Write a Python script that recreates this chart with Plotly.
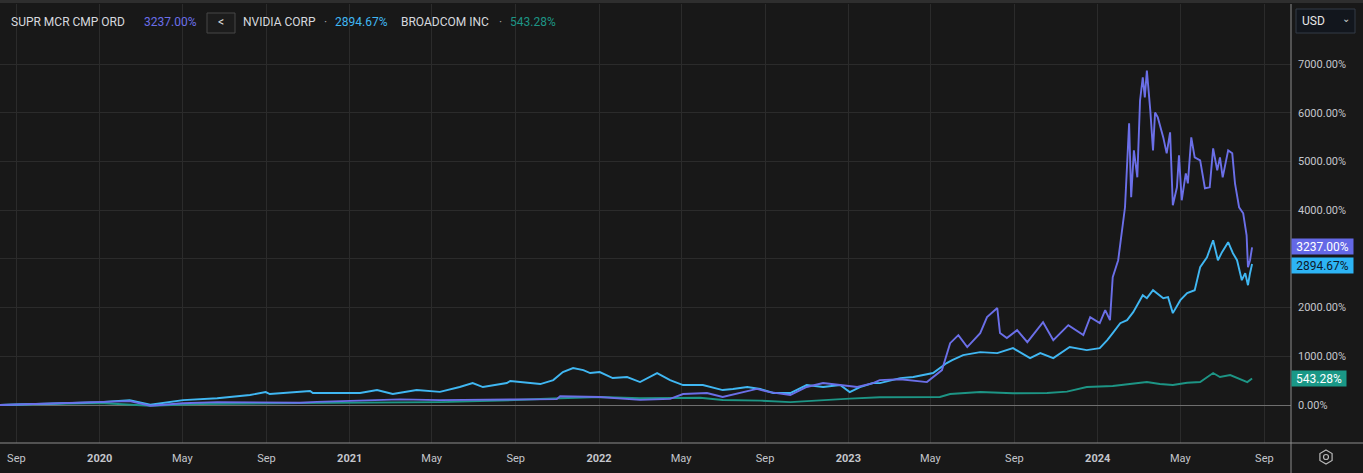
import plotly.graph_objects as go

# ---------------- data ----------------
smci_dates = ['2019-08-08','2019-09-21','2019-11-04','2020-01-01','2020-02-14','2020-03-15','2020-05-02','2020-06-21',
 '2020-08-31','2020-10-20','2020-11-14','2021-01-01','2021-03-16','2021-05-13','2021-08-09','2021-10-31','2021-11-05',
 '2022-01-02','2022-03-02','2022-04-15','2022-05-04','2022-06-08','2022-07-01','2022-07-26','2022-08-20','2022-09-08',
 '2022-10-08','2022-11-01','2022-11-25','2022-12-20','2023-01-14','2023-02-06','2023-02-16','2023-03-18','2023-04-26',
 '2023-05-18','2023-05-30','2023-06-11','2023-06-24','2023-07-13','2023-07-23','2023-08-07','2023-08-11','2023-08-21',
 '2023-09-05','2023-09-20','2023-10-13','2023-10-28','2023-11-19','2023-12-11','2023-12-21','2024-01-04','2024-01-12',
 '2024-01-19','2024-01-23','2024-01-31','2024-02-06','2024-02-10','2024-02-16','2024-02-19','2024-02-23','2024-02-28',
 '2024-03-03','2024-03-07','2024-03-10','2024-03-13','2024-03-18','2024-03-22','2024-03-25','2024-03-29','2024-04-06',
 '2024-04-11','2024-04-16','2024-04-20','2024-04-26','2024-04-29','2024-05-03','2024-05-09','2024-05-12','2024-05-17',
 '2024-05-22','2024-05-30','2024-06-06','2024-06-13','2024-06-18','2024-06-24','2024-06-28','2024-07-02','2024-07-10',
 '2024-07-16','2024-07-20','2024-07-26','2024-08-01','2024-08-06','2024-08-08','2024-08-11','2024-08-14']
smci_values = [0,15,30,55,80,-15,35,60,
 50,45,65,80,115,100,105,120,180,
 165,105,125,225,245,165,245,330,265,
 205,370,450,410,370,450,510,530,470,
 717,1270,1435,1190,1476,1804,1990,1476,1373,
 1537,1290,1700,1332,1640,1435,1804,1680,1947,
 1742,2624,2972,3649,4059,5781,4264,5227,4674,
 6252,6724,6314,6867,6047,5227,6006,5904,5494,
 5166,5596,4100,4469,5125,4202,4756,4551,5494,
 5084,5022,4449,4469,5268,4817,5084,4674,5227,
 5166,4551,4059,3936,3485,2829,2972,3237.00]

nvda_dates = ['2019-08-08','2019-10-06','2020-01-01','2020-02-14','2020-03-15','2020-05-02','2020-06-21','2020-08-08',
 '2020-08-31','2020-09-06','2020-10-10','2020-11-04','2020-11-08','2020-12-08','2021-01-16','2021-02-10','2021-03-05',
 '2021-04-09','2021-05-13','2021-06-11','2021-06-30','2021-07-15','2021-08-19','2021-08-24','2021-09-12','2021-10-07',
 '2021-10-26','2021-11-09','2021-11-24','2021-12-09','2021-12-19','2022-01-02','2022-01-21','2022-02-11','2022-03-02',
 '2022-03-27','2022-04-15','2022-05-04','2022-06-02','2022-07-01','2022-07-16','2022-08-06','2022-08-25','2022-09-13',
 '2022-10-08','2022-11-01','2022-11-25','2022-12-20','2023-01-03','2023-01-18','2023-02-06','2023-02-16','2023-03-18',
 '2023-04-06','2023-05-05','2023-05-25','2023-06-02','2023-06-18','2023-07-13','2023-08-07','2023-08-30','2023-09-24',
 '2023-10-09','2023-10-28','2023-11-21','2023-12-16','2024-01-04','2024-01-15','2024-01-23','2024-02-03','2024-02-13',
 '2024-02-22','2024-03-07','2024-03-13','2024-03-22','2024-04-06','2024-04-13','2024-04-20','2024-05-01','2024-05-11',
 '2024-05-22','2024-05-30','2024-06-09','2024-06-18','2024-06-25','2024-07-01','2024-07-10','2024-07-17','2024-07-23',
 '2024-07-30','2024-08-04','2024-08-08','2024-08-11','2024-08-14']
nvda_values = [0,20,60,100,5,100,140,205,
 266,225,266,287,246,246,246,307,225,
 307,270,370,451,369,451,492,471,430,
 512,676,758,717,656,676,553,574,471,
 656,512,410,410,307,328,369,328,246,
 246,410,369,410,266,369,451,450,553,
 574,656,861,922,1025,1086,1066,1168,963,
 1066,963,1189,1127,1168,1332,1476,1680,1742,
 1906,2255,2193,2357,2193,2214,1886,2152,2296,
 2357,2829,3034,3383,2972,3137,3342,3116,2972,
 2562,2706,2460,2706,2894.67]

avgo_dates = ['2019-08-08','2020-01-01','2020-03-15','2020-05-27','2020-10-20','2021-03-16','2021-05-13','2021-08-09',
 '2021-09-07','2021-11-05','2022-01-02','2022-03-02','2022-04-19','2022-05-29','2022-07-01','2022-08-25','2022-10-08',
 '2022-11-20','2023-01-03','2023-02-16','2023-05-15','2023-05-30','2023-07-13','2023-08-30','2023-10-19','2023-11-17',
 '2023-12-16','2024-01-23','2024-02-22','2024-03-13','2024-04-01','2024-04-20','2024-05-11','2024-05-30','2024-06-18',
 '2024-06-28','2024-07-13','2024-07-27','2024-08-07','2024-08-14']
avgo_values = [0,40,-15,20,40,60,60,90,
 110,140,164,140,143,150,102,90,60,
 100,130,160,164,225,266,240,246,274,
 369,390,445,471,431,410,458,471,656,
 574,615,533,471,543.28]

names = ['SUPR MCR CMP ORD', 'NVIDIA CORP', 'BROADCOM INC']
last_labels = ['3237.00%', '2894.67%', '543.28%']
y_tick_vals = [0, 1000, 2000, 3000, 4000, 5000, 6000, 7000]
# the 3000.00% label is hidden behind the last-value boxes in the reference
y_tick_text = ['0.00%', '1000.00%', '2000.00%', '', '4000.00%', '5000.00%', '6000.00%', '7000.00%']
x_tick_vals = ['2019-09-01','2020-01-01','2020-05-01','2020-09-01','2021-01-01','2021-05-01','2021-09-01',
 '2022-01-01','2022-05-01','2022-09-01','2023-01-01','2023-05-01','2023-09-01','2024-01-01','2024-05-01','2024-09-01']
x_tick_text = ['Sep','<b>2020</b>','May','Sep','<b>2021</b>','May','Sep','<b>2022</b>','May','Sep',
 '<b>2023</b>','May','Sep','<b>2024</b>','May','Sep']

# ---------------- styling ----------------
W, H = 1363, 473
L, R, T, B = 0, 72, 4, 30
BG = '#181818'
GRID = '#2b2b2b'
TXT = '#c4c6cc'
C_SMCI, C_NVDA, C_AVGO = '#6b6fe8', '#40b7f2', '#1d9585'
FONT = 'Roboto'

def pxx(px):
    return (px - L) / (W - L - R)

def pxy(py):
    return (H - B - py) / (H - T - B)

fig = go.Figure()
fig.add_trace(go.Scatter(x=avgo_dates, y=avgo_values, mode='lines', name=names[2],
                         line=dict(color=C_AVGO, width=1.9)))
fig.add_trace(go.Scatter(x=nvda_dates, y=nvda_values, mode='lines', name=names[1],
                         line=dict(color=C_NVDA, width=1.9)))
fig.add_trace(go.Scatter(x=smci_dates, y=smci_values, mode='lines', name=names[0],
                         line=dict(color=C_SMCI, width=1.9)))

fig.update_layout(
    width=W, height=H, showlegend=False,
    paper_bgcolor=BG, plot_bgcolor=BG,
    margin=dict(l=L, r=R, t=T, b=B, pad=0),
    font=dict(family=FONT, color=TXT, size=11),
    xaxis=dict(range=['2019-08-08', '2024-10-10'], tickvals=x_tick_vals, ticktext=x_tick_text,
               showgrid=True, gridcolor=GRID, gridwidth=1, zeroline=False, showline=False,
               ticks='', tickfont=dict(size=11, color=TXT, family=FONT), ticklabelstandoff=7,
               fixedrange=True),
    yaxis=dict(side='right', range=[-780, 8232], tickvals=y_tick_vals, ticktext=y_tick_text,
               showgrid=True, gridcolor=GRID, gridwidth=1, zeroline=True, zerolinecolor='#6e6e6e',
               zerolinewidth=1, showline=False, ticks='', ticklabelstandoff=6,
               tickfont=dict(size=11, color=TXT, family=FONT), fixedrange=True),
)

shapes = []
# top strip
shapes.append(dict(type='rect', xref='paper', yref='paper', x0=pxx(0), x1=pxx(W), y0=pxy(3), y1=pxy(0),
                   fillcolor='#2e2e2e', line=dict(width=0), layer='above'))
# separators
shapes.append(dict(type='line', xref='paper', yref='paper', x0=pxx(1291), x1=pxx(1291), y0=pxy(H), y1=pxy(4),
                   line=dict(color='#8c8c8c', width=1), layer='above'))
shapes.append(dict(type='line', xref='paper', yref='paper', x0=pxx(0), x1=pxx(W), y0=pxy(443), y1=pxy(443),
                   line=dict(color='#8c8c8c', width=1), layer='above'))
# "<" button
shapes.append(dict(type='rect', xref='paper', yref='paper', x0=pxx(207), x1=pxx(235), y0=pxy(33), y1=pxy(13),
                   fillcolor='#1c1c1c', line=dict(color='#474747', width=1), layer='above'))
# USD dropdown
shapes.append(dict(type='rect', xref='paper', yref='paper', x0=pxx(1296), x1=pxx(1355), y0=pxy(33), y1=pxy(9),
                   fillcolor='#12161d', line=dict(color='#333a47', width=1), layer='above'))
# settings icon (hexagon + circle)
cx, cy, r = 1326, 457, 7
hexpts = [(cx, cy - r), (cx + 0.87 * r, cy - r / 2), (cx + 0.87 * r, cy + r / 2), (cx, cy + r),
          (cx - 0.87 * r, cy + r / 2), (cx - 0.87 * r, cy - r / 2)]
path = 'M ' + ' L '.join(f'{pxx(a):.5f},{pxy(b):.5f}' for a, b in hexpts) + ' Z'
shapes.append(dict(type='path', xref='paper', yref='paper', path=path,
                   line=dict(color='#b8b8b8', width=1.2), layer='above'))
shapes.append(dict(type='circle', xref='paper', yref='paper', x0=pxx(cx - 2.5), x1=pxx(cx + 2.5),
                   y0=pxy(cy + 2.5), y1=pxy(cy - 2.5), line=dict(color='#b8b8b8', width=1.2), layer='above'))
fig.update_layout(shapes=shapes)

ann = []
def txt(px, py, s, color, size=12, anchor='left'):
    ann.append(dict(xref='paper', yref='paper', x=pxx(px), y=pxy(py), text=s, showarrow=False,
                    xanchor=anchor, yanchor='middle', font=dict(family=FONT, size=size, color=color)))

# header legend
txt(9, 22, names[0], '#d6d8de')
txt(142, 22, last_labels[0], C_SMCI)
txt(221, 22, '&lt;', '#e0e0e0', size=12, anchor='center')
txt(241, 22, names[1], '#d6d8de')
txt(322, 22, '·', '#a0a0a0')
txt(333, 22, last_labels[1], C_NVDA)
txt(399, 22, names[2], '#d6d8de')
txt(497, 22, '·', '#a0a0a0')
txt(508, 22, last_labels[2], C_AVGO)
# USD dropdown text
txt(1300, 21, 'USD', '#e6e6e6', size=12)
txt(1346, 19, '⌄', '#cfcfcf', size=10, anchor='center')

# last-value boxes on the right axis
for val, lab, bg, fc, ys, wd in [(smci_values[-1], last_labels[0], '#6468e6', '#ffffff', 1, 61),
                                 (nvda_values[-1], last_labels[1], '#2db4f5', '#0d1a2b', -1, 61),
                                 (avgo_values[-1], last_labels[2], '#1a9887', '#ffffff', 0, 54)]:
    ann.append(dict(xref='paper', yref='y', x=pxx(1291), y=val, text=lab, showarrow=False,
                    xanchor='left', yanchor='middle', bgcolor=bg, borderpad=0, yshift=ys,
                    width=wd, height=15, align='center',
                    font=dict(family=FONT, size=12, color=fc)))
fig.update_layout(annotations=ann)

fig.write_html('out.html', config={'displayModeBar': False},
               post_script="document.body.style.margin='0';document.body.style.background='#181818';")
